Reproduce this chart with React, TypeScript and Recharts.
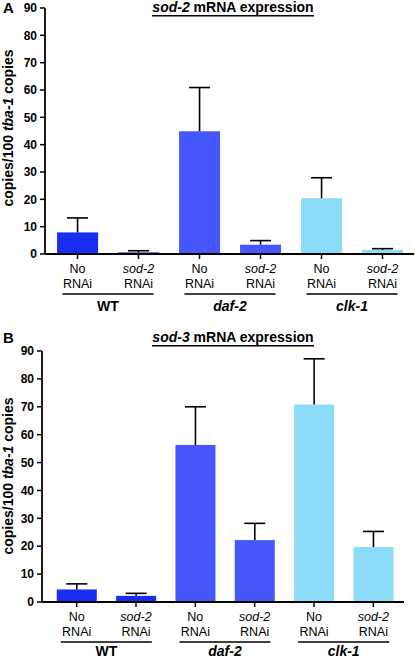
import { BarChart, Bar, XAxis, YAxis, Cell } from "recharts"

const STRAINS = ["WT", "WT", "daf-2", "daf-2", "clk-1", "clk-1"]
const CONDITIONS = ["No RNAi", "sod-2 RNAi", "No RNAi", "sod-2 RNAi", "No RNAi", "sod-2 RNAi"]
const Y_TICKS = [0, 10, 20, 30, 40, 50, 60, 70, 80, 90]

// sod-2 mRNA, copies per 100 tba-1 copies (mean and upper SD)
const SOD2_MEAN = [7.9, 0.6, 44.9, 3.4, 20.4, 1.5]
const SOD2_ERR = [5.3, 0.6, 16.0, 1.5, 7.5, 0.45]

// sod-3 mRNA
const SOD3_MEAN = [4.5, 2.2, 56.3, 22.2, 70.8, 19.7]
const SOD3_ERR = [2.0, 0.9, 13.7, 6.0, 16.4, 5.6]

const STRAIN_COLORS: Record<string, string> = {
  WT: "#1a2ef2",
  "daf-2": "#4657fb",
  "clk-1": "#8bdcf8",
}

const FONT = '"Liberation Sans", Arial, sans-serif'

function buildRows(mean: number[], err: number[]) {
  return STRAINS.map((strain, i) => ({
    key: `${strain}|${CONDITIONS[i]}`,
    strain,
    mean: mean[i],
    err: err[i],
  }))
}

// bar with an upper-only error whisker
// eslint-disable-next-line @typescript-eslint/no-explicit-any
function BarWithError(props: any) {
  const { x, y, width, height, fill, payload } = props
  const perUnit = payload.mean > 0 ? height / payload.mean : 0
  const top = y + height - (payload.mean + payload.err) * perUnit
  const cx = x + width / 2
  return (
    <g>
      <rect x={x} y={y} width={width} height={height} fill={fill} />
      <line x1={cx} x2={cx} y1={y} y2={top} stroke="#000" strokeWidth={1.6} />
      <line x1={cx - 10.5} x2={cx + 10.5} y1={top} y2={top} stroke="#000" strokeWidth={1.6} />
    </g>
  )
}

// eslint-disable-next-line @typescript-eslint/no-explicit-any
function ConditionTick(props: any) {
  const { x, y, payload } = props
  const cond = String(payload.value).split("|")[1] || ""
  const [first, second] = cond.split(" ")
  const italic = first.startsWith("sod")
  return (
    <g>
      <text x={x} y={y + 14} textAnchor="middle" fontSize={12.5} fontFamily={FONT}
        fontStyle={italic ? "italic" : "normal"} fill="#000">
        {first}
      </text>
      <text x={x} y={y + 29} textAnchor="middle" fontSize={12.5} fontFamily={FONT} fill="#000">
        {second}
      </text>
    </g>
  )
}

// eslint-disable-next-line @typescript-eslint/no-explicit-any
function StrainTick(props: any) {
  const { x, y, payload, textOffset } = props
  const name = String(payload.value)
  return (
    <g>
      <line x1={x - 45.5} x2={x + 45.5} y1={y + 4} y2={y + 4} stroke="#000" strokeWidth={1.6} />
      <text x={x} y={y + textOffset} textAnchor="middle" fontSize={14} fontWeight="bold"
        fontFamily={FONT} fontStyle={name === "WT" ? "normal" : "italic"} fill="#000">
        {name}
      </text>
    </g>
  )
}

function Panel({
  mean,
  err,
  width,
  height,
  margin,
  yWidth,
  padLeft,
  padRight,
  groupHeight,
  textOffset,
}: {
  mean: number[]
  err: number[]
  width: number
  height: number
  margin: { top: number; right: number; left: number; bottom: number }
  yWidth: number
  padLeft: number
  padRight: number
  groupHeight: number
  textOffset: number
}) {
  const rows = buildRows(mean, err)
  return (
    <BarChart width={width} height={height} data={rows} margin={margin} barCategoryGap="16.5%">
      <XAxis
        dataKey="key"
        height={36}
        interval={0}
        tick={<ConditionTick />}
        tickSize={5}
        tickMargin={0}
        tickLine={{ stroke: "#000", strokeWidth: 1.5 }}
        axisLine={{ stroke: "#000", strokeWidth: 1.8 }}
        padding={{ left: padLeft, right: padRight }}
      />
      <XAxis
        xAxisId="group"
        dataKey="strain"
        allowDuplicatedCategory={false}
        height={groupHeight}
        interval={0}
        tick={<StrainTick textOffset={textOffset} />}
        tickSize={0}
        tickMargin={0}
        tickLine={false}
        axisLine={false}
        padding={{ left: padLeft, right: padRight }}
      />
      <YAxis
        width={yWidth}
        domain={[0, 90]}
        ticks={Y_TICKS}
        interval={0}
        tickSize={5}
        tickMargin={3}
        tick={{ fontSize: 12, fontWeight: "bold", fontFamily: FONT, fill: "#000" }}
        tickLine={{ stroke: "#000", strokeWidth: 1.5 }}
        axisLine={{ stroke: "#000", strokeWidth: 1.8 }}
      />
      <Bar dataKey="mean" shape={<BarWithError />} isAnimationActive={false}>
        {rows.map((r) => (
          <Cell key={r.key} fill={STRAIN_COLORS[r.strain]} />
        ))}
      </Bar>
    </BarChart>
  )
}

function Labels({ letter, gene, labelY }: { letter: string; gene: string; labelY: number }) {
  return (
    <svg width={415} height={330} style={{ position: "absolute", left: 0, top: 0, pointerEvents: "none" }}>
      <text x={3} y={13} fontSize={15} fontWeight="bold" fontFamily={FONT} fill="#000">
        {letter}
      </text>
      <text x={233} y={12} textAnchor="middle" fontSize={14} fontWeight="bold" fontFamily={FONT} fill="#000">
        <tspan fontStyle="italic">{gene}</tspan>
        <tspan> mRNA expression</tspan>
      </text>
      <line x1={152} x2={314} y1={15.7} y2={15.7} stroke="#000" strokeWidth={1.6} />
      <text
        x={13}
        y={labelY}
        transform={`rotate(-90, 13, ${labelY})`}
        textAnchor="middle"
        fontSize={14}
        fontWeight="bold"
        fontFamily={FONT}
        fill="#000"
      >
        <tspan>copies/100 </tspan>
        <tspan fontStyle="italic">tba-1</tspan>
        <tspan> copies</tspan>
      </text>
    </svg>
  )
}

export default function App() {
  return (
    <div style={{ position: "absolute", left: 0, top: 0, width: 415, height: 659, background: "#fff" }}>
      <div style={{ position: "absolute", left: 0, top: 0, width: 415, height: 330 }}>
        <Panel
          mean={SOD2_MEAN}
          err={SOD2_ERR}
          width={415}
          height={330}
          margin={{ top: 8, right: 1, left: 0, bottom: 0 }}
          yWidth={45}
          padLeft={2}
          padRight={1}
          groupHeight={40}
          textOffset={20.5}
        />
        <Labels letter="A" gene="sod-2" labelY={128} />
      </div>
      <div style={{ position: "absolute", left: 0, top: 330, width: 415, height: 329 }}>
        <Panel
          mean={SOD3_MEAN}
          err={SOD3_ERR}
          width={415}
          height={329}
          margin={{ top: 21, right: 11, left: 0, bottom: 0 }}
          yWidth={42}
          padLeft={5}
          padRight={1}
          groupHeight={21}
          textOffset={17.5}
        />
        <Labels letter="B" gene="sod-3" labelY={146} />
      </div>
    </div>
  )
}
